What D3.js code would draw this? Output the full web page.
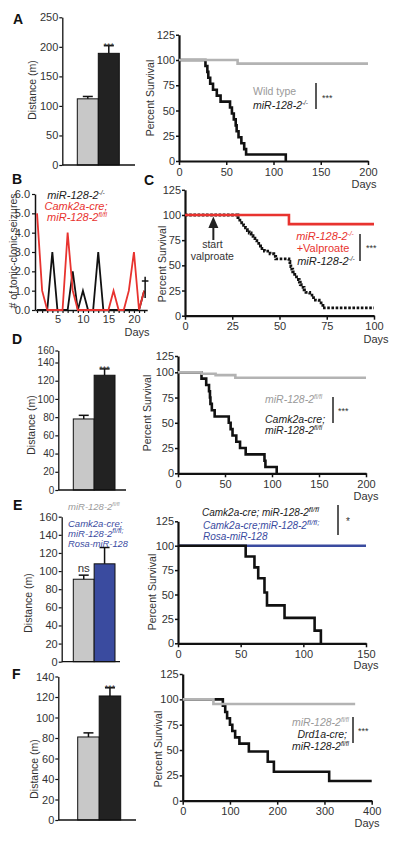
<!DOCTYPE html>
<html><head><meta charset="utf-8">
<script src="https://cdn.jsdelivr.net/npm/d3@7"></script>
<style>body{margin:0;background:#fff}svg{display:block}</style>
</head><body><script>
// ---------------- DATA ----------------
const barGroups = ["control", "mutant"];
const barA_values = [112, 189], barA_errors = [4, 13];
const barD_values = [78, 126], barD_errors = [4, 7];
const barE_values = [91, 108], barE_errors = [4.5, 18];
const barF_values = [81, 121], barF_errors = [4, 8];
const barA_ticks = [0, 50, 100, 150, 200, 250];
const barD_ticks = [0, 20, 40, 60, 80, 100, 120, 140, 160];
const barE_ticks = [0, 20, 40, 60, 80, 100, 120, 140, 160];
const barF_ticks = [0, 20, 40, 60, 80, 100, 120, 140];

const seizureDays = [1,2,3,4,5,6,7,8,9,10,11,12,13,14,15,16,17,18,19,20,21,22];
const seizuresKO  = [0,0,0,3,0,0,0,2,0,1,0,0,3,0,0,0,0,0,0,0,0,1];
const seizuresCre = [5,1,0,0,0,0,4,1,0,0,0,0,0,0,0,1,0,0,1,3,0,1];
const seizureYTicks = [0,1,2,3,4,5,6];
const seizureXLabels = [5,10,15,20];

const survTicksY = [0, 25, 50, 75, 100, 125];
// [day, percent] step points
const survA_wt = [[0,100],[62,96.4],[200,96.4]];
const survA_ko = [[0,100],[28,94.1],[30,88.2],[31,82.4],[33,76.5],[36,70.6],[40,64.7],[44,58.8],[54,52.9],[56,47.1],[58,41.2],[60,35.3],[61,29.4],[63,23.5],[66,17.6],[69,11.8],[71,6.5],[113,0]];
const survC_vpa = [[0,100],[55,90.9],[100,90.9]];
const survC_ko = [[0,100],[28,97.4],[29,94.9],[30,92.3],[31,89.7],[32,87.2],[33,84.6],[34,82.1],[35,79.5],[36,76.9],[37,74.4],[38,71.8],[39,69.2],[40,66.7],[42,64.1],[45,61.5],[47,59],[48,56.4],[55,53.8],[55.5,51.3],[56,48.7],[56.5,46.2],[57,43.6],[58,41],[59,38.5],[60,35.9],[60.5,33.3],[61,30.8],[61.5,28.2],[63,25.6],[64,23.1],[66,20.5],[68,17.9],[69,15.4],[71,12.8],[72,10.3],[73,7.7],[100,7.7]];
const survD_fl = [[0,100],[25,98.6],[40,97.2],[61,94.6],[200,94.6]];
const survD_cre = [[0,100],[25,93.75],[30,87.5],[33,81.25],[34,75],[34.5,68.75],[36,62.5],[39,56.25],[54,50],[56,43.75],[58,37.5],[62,31.25],[66,25],[72,18.75],[92,12.5],[93,6.25],[105,0]];
const survE_cre = [[0,100],[54,88.9],[61,77.8],[64,66.7],[69,52],[71,38.9],[85,26],[109,13],[114,0]];
const survE_rosa = [[0,100],[150,100]];
const survF_fl = [[0,100],[65,95.4],[365,95.4]];
const survF_cre = [[0,100],[85,93.8],[90,87.5],[94,81.3],[100,75],[105,68.8],[111,62.5],[120,56.3],[140,48.5],[180,38.5],[193,28.6],[310,19.5],[400,19.5]];

// ---------------- DRAW ----------------
const FONT = '"Liberation Sans", Arial, Helvetica, sans-serif';
const BLACK = '#111', GRAY = '#b3b3b3', RED = '#e8332f', BLUE = '#3a4b9f', TXTGRAY = '#9a9a9a';
const svg = d3.select('body').append('svg').attr('width', 400).attr('height', 841)
  .attr('font-family', FONT);
svg.append('rect').attr('width', 400).attr('height', 841).attr('fill', '#fff');

function styleAxis(sel, dw, tw, fs) {
  sel.select('.domain').attr('stroke', BLACK).attr('stroke-width', dw);
  sel.selectAll('.tick line').attr('stroke', BLACK).attr('stroke-width', tw);
  sel.selectAll('.tick text').attr('fill', '#333').attr('font-size', fs || 11).attr('font-family', FONT);
}
function txt(x, y, s, o = {}) {
  return svg.append('text').attr('x', x).attr('y', y).text(s)
    .attr('font-size', o.size || 11).attr('fill', o.fill || '#222')
    .attr('text-anchor', o.anchor || 'start')
    .attr('font-weight', o.bold ? 'bold' : null)
    .attr('font-style', o.italic ? 'italic' : null);
}
function vtxt(x, y, s, size) {
  return svg.append('text').attr('transform', `translate(${x},${y}) rotate(-90)`)
    .attr('text-anchor', 'middle').attr('dy', '0.35em').attr('font-size', size || 11)
    .attr('fill', '#333').text(s);
}
function rich(x, y, parts, o = {}) {
  const size = o.size || 10.5;
  const t = svg.append('text').attr('x', x).attr('y', y).attr('font-size', size)
    .attr('fill', o.fill || '#222').attr('text-anchor', o.anchor || 'start')
    .attr('font-style', 'italic');
  let up = 0;
  parts.forEach(p => {
    const sup = Array.isArray(p);
    const ts = t.append('tspan').text(sup ? p[0] : p);
    const lift = size * (o.lift || 0.4);
    if (sup) { ts.attr('font-size', size * (o.sup || 0.6)).attr('dy', -lift); up = lift; }
    else if (up) { ts.attr('dy', up); up = 0; }
  });
  return t;
}
function vbar(x, y1, y2) {
  svg.append('line').attr('x1', x).attr('x2', x).attr('y1', y1).attr('y2', y2)
    .attr('stroke', '#222').attr('stroke-width', 1.5);
}

function barPanel(p) {
  const x = d3.scaleBand().domain(barGroups).range(p.barRange).padding(0);
  const y = d3.scaleLinear().domain(p.yDom).range(p.yRng);
  const g = svg.append('g');
  g.selectAll('rect').data(p.values).join('rect')
    .attr('x', (d, i) => x(barGroups[i])).attr('width', x.bandwidth())
    .attr('y', d => y(d)).attr('height', d => y(0) - y(d))
    .attr('fill', (d, i) => p.fills[i]).attr('stroke', BLACK).attr('stroke-width', 1);
  p.values.forEach((v, i) => {
    const cx = x(barGroups[i]) + x.bandwidth() / 2;
    const top = y(v + p.errors[i]);
    g.append('line').attr('x1', cx).attr('x2', cx).attr('y1', y(v)).attr('y2', top)
      .attr('stroke', BLACK).attr('stroke-width', 1.5);
    g.append('line').attr('x1', cx - 5).attr('x2', cx + 5).attr('y1', top).attr('y2', top)
      .attr('stroke', BLACK).attr('stroke-width', 1.5);
  });
  const ax = g.append('g').attr('transform', `translate(${p.axisX},0)`)
    .call(d3.axisLeft(y).tickValues(p.ticks).tickSize(3).tickSizeOuter(0).tickPadding(1));
  styleAxis(ax, 1.3, 1.2, p.tickFont);
  g.append('line').attr('x1', p.axisX).attr('x2', p.baseEnd).attr('y1', y(0)).attr('y2', y(0))
    .attr('stroke', BLACK).attr('stroke-width', 1.3);
  vtxt(p.title[0], p.title[1], 'Distance (m)', 10.5);
  if (p.sig) {
    const cx = x(barGroups[1]) + x.bandwidth() / 2;
    txt(cx, y(p.values[1] + p.errors[1]) + 3.5, p.sig, { size: 9, anchor: 'middle', fill: '#333' });
  }
  return { x, y };
}

function survPanel(p) {
  const x = d3.scaleLinear().domain(p.xDom).range([p.x0, p.x1]);
  const y = d3.scaleLinear().domain(p.yDom).range(p.yRng);
  const g = svg.append('g');
  const ax = g.append('g').attr('transform', `translate(${p.x0},0)`)
    .call(d3.axisLeft(y).tickValues(survTicksY).tickSize(3).tickSizeOuter(0).tickPadding(1));
  styleAxis(ax, 2.2, 1.5);
  const bx = g.append('g').attr('transform', `translate(0,${y(0)})`)
    .call(d3.axisBottom(x).tickValues(p.xTicks).tickSize(4).tickSizeOuter(0).tickPadding(3));
  styleAxis(bx, 2.2, 1.5);
  const line = d3.line().x(d => x(d[0])).y(d => y(d[1])).curve(d3.curveStepAfter);
  p.curves.forEach(c => {
    g.append('path').datum(c.data).attr('d', line).attr('fill', 'none')
      .attr('stroke', c.color).attr('stroke-width', c.w || 2.6)
      .attr('stroke-dasharray', c.dash || null).attr('stroke-linejoin', 'miter');
  });
  vtxt(p.title[0], p.title[1], 'Percent Survival', 10.5);
  txt(p.days[0], p.days[1], 'Days', { anchor: 'middle', fill: '#333' });
  return { x, y };
}

// Panel letters
txt(13, 24, 'A', { size: 14, bold: true, fill: '#111' });
txt(12, 184, 'B', { size: 14, bold: true, fill: '#111' });
txt(144, 185, 'C', { size: 14, bold: true, fill: '#111' });
txt(12, 344, 'D', { size: 14, bold: true, fill: '#111' });
txt(13, 510, 'E', { size: 14, bold: true, fill: '#111' });
txt(12, 679, 'F', { size: 14, bold: true, fill: '#111' });

// ---- A ----
barPanel({ values: barA_values, errors: barA_errors, fills: ['#c8c8c8', '#222'],
  barRange: [77.3, 119.3], yDom: [0, 250], yRng: [165, 17.3], ticks: barA_ticks,
  axisX: 62.3, baseEnd: 135, title: [32.5, 90], sig: '***' });
survPanel({ x0: 179, x1: 368, xDom: [0, 200], xTicks: [0, 50, 100, 150, 200],
  yDom: [0, 125], yRng: [161, 34.75], title: [150.5, 98], days: [364, 188],
  curves: [{ data: survA_ko, color: BLACK }, { data: survA_wt, color: GRAY }] });
txt(253, 95, 'Wild type', { size: 10.5, fill: TXTGRAY });
rich(253, 109, ['miR-128-2', ['-/-']], { size: 10.5 });
vbar(316, 83, 109);
txt(322, 101, '***', { size: 9, fill: '#333' });

// ---- B ----
{
  const x = d3.scaleLinear().domain([0.6, 22.6]).range([35, 147.2]);
  const y = d3.scaleLinear().domain([0, 6]).range([310, 194]);
  const g = svg.append('g');
  const ax = g.append('g').attr('transform', 'translate(35,0)')
    .call(d3.axisLeft(y).tickValues(seizureYTicks).tickSize(3).tickSizeOuter(0).tickPadding(2));
  styleAxis(ax, 1.5, 1.2);
  const bx = g.append('g').attr('transform', `translate(0,${y(0)})`)
    .call(d3.axisBottom(x).tickValues(seizureDays).tickSize(3).tickSizeOuter(0).tickPadding(2)
      .tickFormat(d => seizureXLabels.includes(d) ? d : ''));
  styleAxis(bx, 1.5, 1.2);
  const ln = d3.line().x((d, i) => x(seizureDays[i])).y(d => y(d));
  g.append('path').datum(seizuresKO).attr('d', ln).attr('fill', 'none').attr('stroke', BLACK).attr('stroke-width', 1.8);
  g.append('path').datum(seizuresCre).attr('d', ln).attr('fill', 'none').attr('stroke', RED).attr('stroke-width', 1.8);
  // dagger (death) marker at last day
  const dx = x(22) + 1;
  g.append('line').attr('x1', dx).attr('x2', dx).attr('y1', y(1.72)).attr('y2', y(0.62)).attr('stroke', BLACK).attr('stroke-width', 1.5);
  g.append('line').attr('x1', dx - 3.3).attr('x2', dx + 3.3).attr('y1', y(1.5)).attr('y2', y(1.5)).attr('stroke', BLACK).attr('stroke-width', 1.5);
  vtxt(13, 251, '# of tonic-clonic seizures', 10.5);
  txt(137, 336, 'Days', { anchor: 'middle', fill: '#333' });
  rich(76, 199, ['miR-128-2', ['-/-']], { size: 11, anchor: 'middle' });
  txt(76, 210, 'Camk2a-cre;', { size: 11, anchor: 'middle', fill: RED, italic: true });
  rich(77, 221, ['miR-128-2', ['fl/fl']], { size: 11, anchor: 'middle', fill: RED });
}

// ---- C ----
{
  const s = survPanel({ x0: 185, x1: 374, xDom: [0, 100], xTicks: [0, 25, 50, 75, 100],
    yDom: [0, 125], yRng: [315.7, 189.8], title: [162, 264], days: [376, 343],
    curves: [{ data: survC_ko, color: BLACK, dash: '2.6,1.6', w: 2.8 }, { data: survC_vpa, color: RED, w: 2.6 }] });
  const ax = s.x(15);
  svg.append('line').attr('x1', ax).attr('x2', ax).attr('y1', 226).attr('y2', 240).attr('stroke', '#222').attr('stroke-width', 2);
  svg.append('path').attr('d', `M${ax},216.5 L${ax - 5},228 L${ax + 5},228 Z`).attr('fill', '#222');
  txt(ax - 1, 247.5, 'start', { size: 10.5, anchor: 'middle', fill: '#333' });
  txt(ax - 1, 260, 'valproate', { size: 10.5, anchor: 'middle', fill: '#333' });
  rich(325, 240, ['miR-128-2', ['-/-']], { size: 11, anchor: 'middle', fill: RED });
  txt(323, 252, '+Valproate', { size: 11, anchor: 'middle', fill: RED });
  rich(326, 265, ['miR-128-2', ['-/-']], { size: 11, anchor: 'middle' });
  vbar(360, 234, 261);
  txt(366, 251, '***', { size: 9, fill: '#333' });
}

// ---- D ----
barPanel({ values: barD_values, errors: barD_errors, fills: ['#c8c8c8', '#222'],
  barRange: [73.3, 115], yDom: [0, 140, 160], yRng: [490, 362.5, 350.5], ticks: barD_ticks,
  axisX: 58.3, baseEnd: 126, title: [31.5, 425], sig: '***', tickFont: 10 });
survPanel({ x0: 178, x1: 366, xDom: [0, 200], xTicks: [0, 50, 100, 150, 200],
  yDom: [0, 100, 125], yRng: [473.3, 372.3, 356], title: [147, 413], days: [366, 500],
  curves: [{ data: survD_cre, color: BLACK }, { data: survD_fl, color: GRAY }] });
rich(265, 403, ['miR-128-2', ['fl/fl']], { size: 10.5, fill: TXTGRAY });
txt(265, 422.5, 'Camk2a-cre;', { size: 10.5, italic: true });
rich(265, 434, ['miR-128-2', ['fl/fl']], { size: 10.5 });
vbar(333, 397, 423);
txt(338, 414, '***', { size: 9, fill: '#333' });

// ---- E ----
{
  const b = barPanel({ values: barE_values, errors: barE_errors, fills: ['#c8c8c8', BLUE],
    barRange: [73.3, 115], yDom: [0, 160], yRng: [661.7, 516.7], ticks: barE_ticks,
    axisX: 61.7, baseEnd: 120, title: [28, 603] });
  txt(b.x(barGroups[0]) + b.x.bandwidth() / 2, 572, 'ns', { size: 11.5, anchor: 'middle', fill: '#333' });
}
rich(68, 510, ['miR-128-2', ['fl/fl']], { size: 9.5, fill: TXTGRAY });
txt(68, 527, 'Camk2a-cre;', { size: 9.5, italic: true, fill: BLUE });
rich(68, 536.5, ['miR-128-2', ['fl/fl;']], { size: 9.5, fill: BLUE, sup: 0.75, lift: 0.32 });
txt(68, 546.5, 'Rosa-miR-128', { size: 9.3, italic: true, fill: BLUE });
survPanel({ x0: 178, x1: 366, xDom: [0, 150], xTicks: [0, 50, 100, 150],
  yDom: [0, 125], yRng: [643.3, 521.3], title: [152, 592], days: [366, 669],
  curves: [{ data: survE_rosa, color: BLUE }, { data: survE_cre, color: BLACK }] });
rich(202, 516, ['Camk2a-cre; miR-128-2', ['fl/fl']], { size: 10, sup: 0.8 });
rich(203, 528.5, ['Camk2a-cre;miR-128-2', ['fl/fl;']], { size: 10, sup: 0.8, fill: BLUE });
txt(203, 540, 'Rosa-miR-128', { size: 10, italic: true, fill: BLUE });
vbar(338, 505, 535);
txt(348, 525, '*', { size: 10, anchor: 'middle', fill: '#333' });

// ---- F ----
barPanel({ values: barF_values, errors: barF_errors, fills: ['#c8c8c8', '#222'],
  barRange: [77.7, 120.7], yDom: [0, 140], yRng: [820, 676.5], ticks: barF_ticks,
  axisX: 58.3, baseEnd: 136, title: [34.5, 769], sig: '***' });
survPanel({ x0: 182.7, x1: 371.7, xDom: [0, 400], xTicks: [0, 100, 200, 300, 400],
  yDom: [0, 125], yRng: [800.7, 674], title: [158, 749], days: [367, 827],
  curves: [{ data: survF_cre, color: BLACK }, { data: survF_fl, color: GRAY }] });
rich(349, 726, ['miR-128-2', ['fl/fl']], { size: 10.5, fill: TXTGRAY, anchor: 'end' });
txt(347, 737.5, 'Drd1a-cre;', { size: 10.5, italic: true, anchor: 'end' });
rich(349, 750, ['miR-128-2', ['fl/fl']], { size: 10.5, anchor: 'end' });
vbar(353, 717, 743);
txt(358, 734, '***', { size: 9, fill: '#333' });
</script></body></html>
